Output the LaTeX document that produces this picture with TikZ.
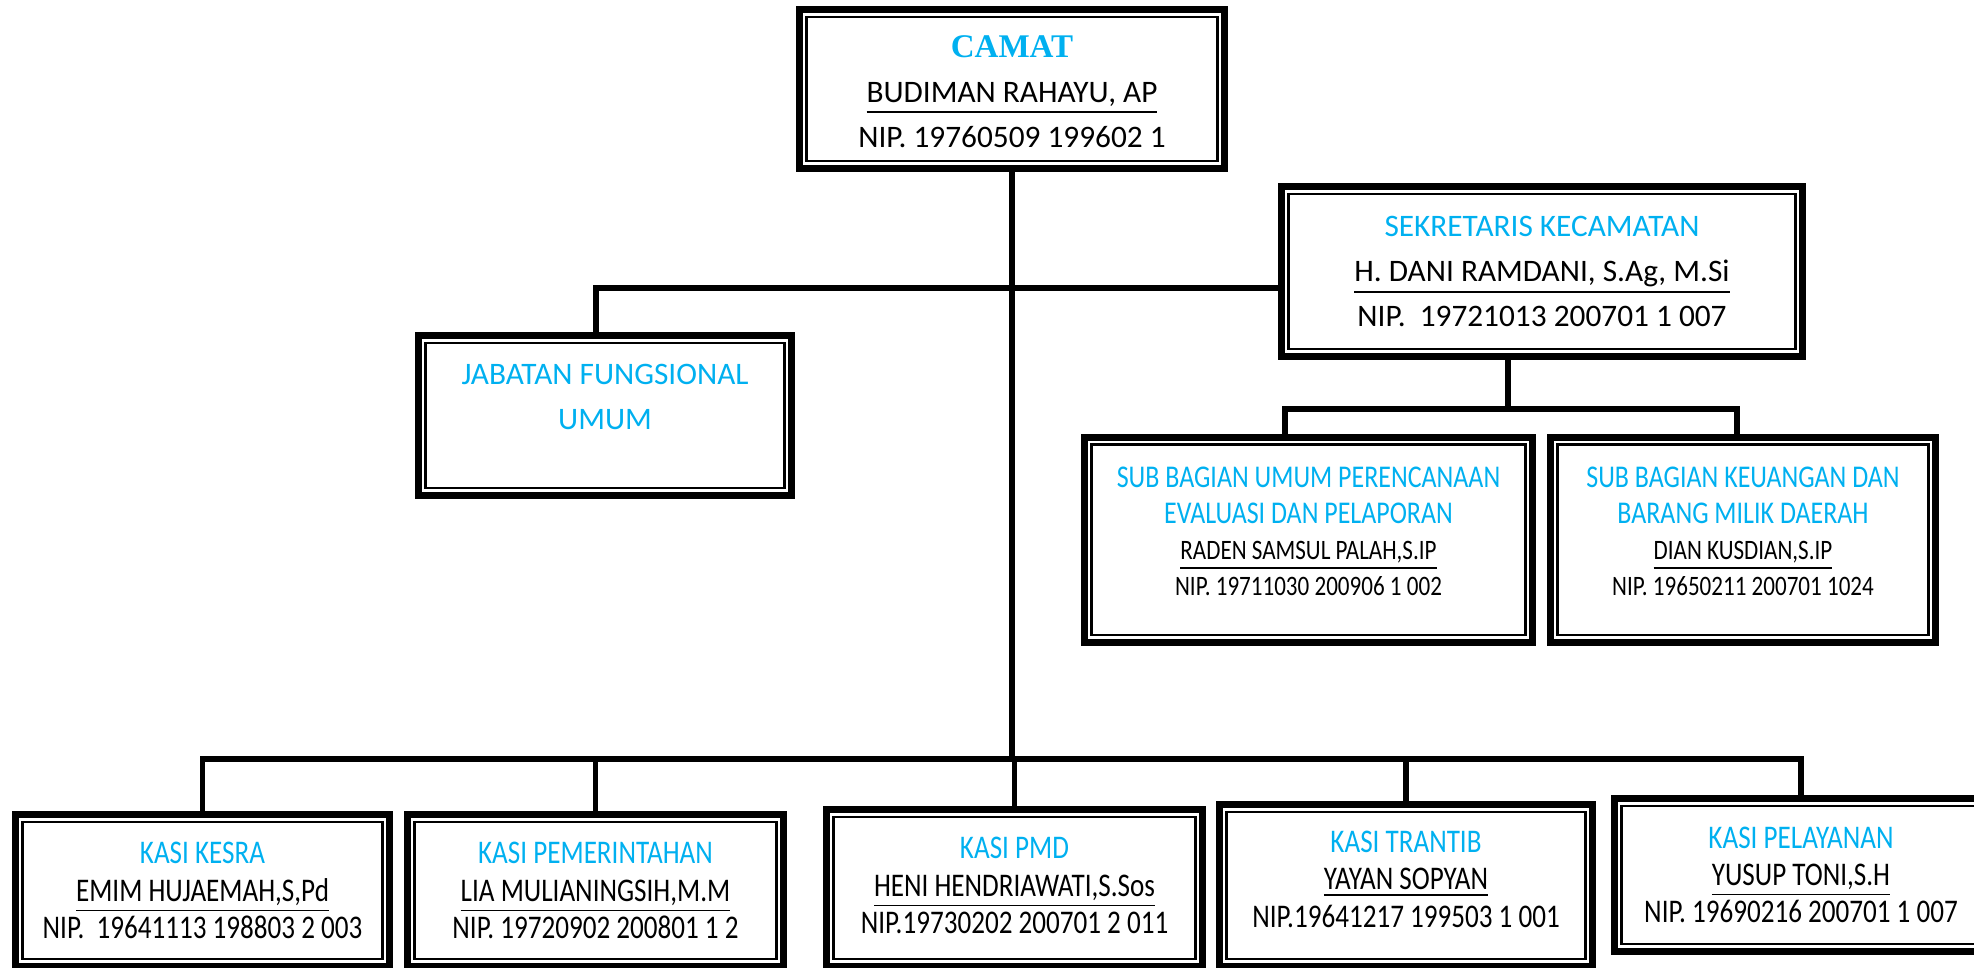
\documentclass[tikz,border=0pt]{standalone}
\usepackage{fontspec}
\setmainfont{Carlito}
\newfontfamily\narrowfont[FakeStretch=0.82]{Carlito}
\newfontfamily\timesfont{Liberation Serif}
\usepackage{tikz}
\definecolor{kecbiru}{HTML}{00B0F0}
\newcommand{\judul}[1]{{\color{kecbiru}#1}}
\newcommand{\naik}[1]{\rule[-#1]{0pt}{0pt}}

\begin{document}
\begin{tikzpicture}[x=0.01cm, y=-0.01cm]
        \tikzstyle{orgbox} = [rectangle, draw, line width=2pt, align=center, inner sep=0pt,
            path picture={\draw[line width=0.75pt]
                ([shift={(2.1pt,-2.1pt)}]path picture bounding box.north west) rectangle
                ([shift={(-2.1pt,2.1pt)}]path picture bounding box.south east);}]
        \tikzstyle{utama} = [font=\fontsize{8.9}{12.8}\selectfont]
        \tikzstyle{sub} = [font=\narrowfont\fontsize{8}{10.3}\selectfont]
        \tikzstyle{kasi} = [font=\narrowfont\fontsize{9.4}{10.6}\selectfont]
        \tikzstyle{link} = [line width=1.7pt]
        \useasboundingbox (0,0) rectangle (1974,968);
        \clip (0,0) rectangle (1974,968);

        \node[orgbox, utama, minimum width=4.25cm, minimum height=1.59cm] (camat) at (1012,89)
            {\rule{0pt}{8pt}\judul{\timesfont\bfseries\fontsize{9.4}{12.8}\selectfont CAMAT}\\
             \underline{BUDIMAN RAHAYU, AP}\\ NIP. 19760509 199602 1};
        \node[orgbox, utama, minimum width=5.21cm, minimum height=1.70cm] (sekcam) at (1542,271.5)
            {\judul{SEKRETARIS KECAMATAN}\\
             \underline{H. DANI RAMDANI, S.Ag, M.Si}\\ NIP.\ \ 19721013 200701 1 007};
        \node[orgbox, utama, minimum width=3.73cm, minimum height=1.60cm] (jabatan) at (605,415.5)
            {\judul{JABATAN FUNGSIONAL}\\ \judul{UMUM}\naik{10.6pt}};
        \node[orgbox, sub, minimum width=4.48cm, minimum height=2.05cm] (subumum) at (1308.5,540)
            {\judul{\fontsize{9}{10.3}\selectfont SUB BAGIAN UMUM PERENCANAAN}\\
             \judul{\fontsize{9}{10.3}\selectfont EVALUASI DAN PELAPORAN}\\
             \underline{RADEN SAMSUL PALAH,S.IP}\\ NIP. 19711030 200906 1 002\naik{5pt}};
        \node[orgbox, sub, minimum width=3.85cm, minimum height=2.05cm] (subuang) at (1743,540)
            {\judul{\fontsize{9}{10.3}\selectfont SUB BAGIAN KEUANGAN DAN}\\
             \judul{\fontsize{9}{10.3}\selectfont BARANG MILIK DAERAH}\\
             \underline{DIAN KUSDIAN,S.IP}\\ NIP. 19650211 200701 1024\naik{5pt}};

        \node[orgbox, kasi, minimum width=3.74cm, minimum height=1.52cm] (kesra) at (202.5,890.5)
            {\judul{KASI KESRA}\\ \underline{EMIM HUJAEMAH,S,Pd}\\ NIP.\ \ 19641113 198803 2 003};
        \node[orgbox, kasi, minimum width=3.76cm, minimum height=1.52cm] (pemerintahan) at (595.5,890.5)
            {\judul{KASI PEMERINTAHAN}\\ \underline{LIA MULIANINGSIH,M.M}\\ NIP. 19720902 200801 1 2};
        \node[orgbox, kasi, minimum width=3.76cm, minimum height=1.57cm] (pmd) at (1014.5,888)
            {\judul{KASI PMD}\\ \underline{HENI HENDRIAWATI,S.Sos}\\ NIP.19730202 200701 2 011\naik{1.5pt}};
        \node[orgbox, kasi, minimum width=3.73cm, minimum height=1.62cm] (trantib) at (1406,885.5)
            {\judul{KASI TRANTIB}\\ \underline{YAYAN SOPYAN}\\ NIP.19641217 199503 1 001\naik{3.6pt}};
        \node[orgbox, kasi, minimum width=3.73cm, minimum height=1.53cm] (pelayanan) at (1801,875)
            {\judul{KASI PELAYANAN}\\ \underline{YUSUP TONI,S.H}\\ NIP. 19690216 200701 1 007};

        \coordinate (bus) at (0,759);
        \coordinate (fungsi) at (596,288);
        \coordinate (subdrop) at (1508,409);
        \coordinate (subL) at (1285,409);
        \coordinate (subR) at (1737,409);

        \draw[link] (camat.south) -- (camat.south |- bus);
        \draw[link] (kesra.north) |- (pelayanan.north |- bus) -- (pelayanan.north);
        \foreach \kasi in {pemerintahan, pmd, trantib}
            \draw[link] (\kasi.north) -- (\kasi.north |- bus);
        \draw[link] (fungsi |- jabatan.north) -- (fungsi) -- (fungsi -| sekcam.west);
        \draw[link] (subdrop |- sekcam.south) -- (subdrop);
        \draw[link] (subL |- subumum.north) -- (subL) -- (subR) -- (subR |- subuang.north);
\end{tikzpicture}
\end{document}
